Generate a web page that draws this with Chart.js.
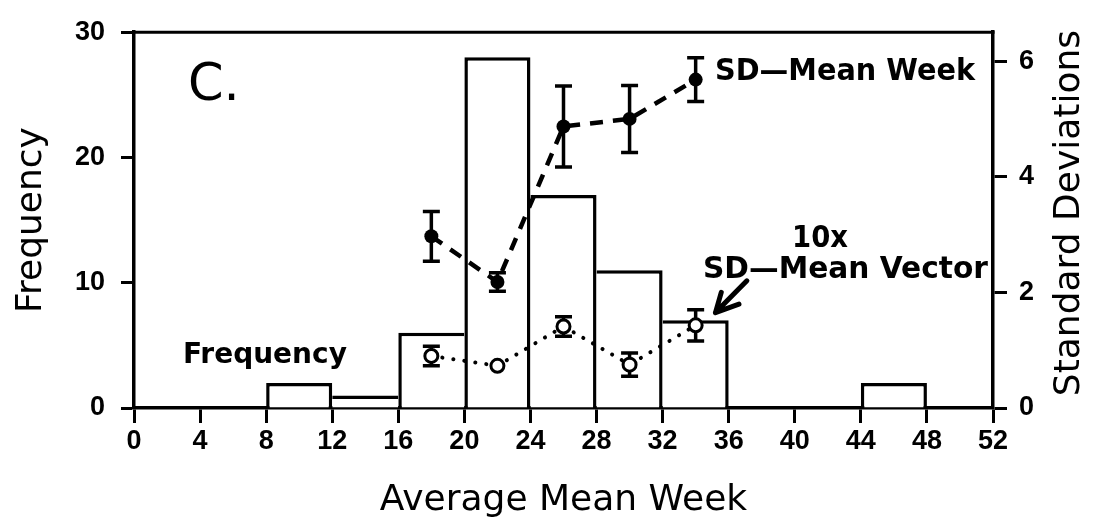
<!DOCTYPE html>
<html>
<head>
<meta charset="utf-8">
<script src="https://cdn.jsdelivr.net/npm/chart.js@4.4.0/dist/chart.umd.min.js"></script>
<style>
html,body{margin:0;padding:0;background:#fff;overflow:hidden}
#wrap{width:1093px;height:528px;position:relative}
</style>
</head>
<body>
<div id="wrap"><canvas id="c" width="1093" height="528"></canvas></div>
<script>
// ---- data ----
const binCenters = [10, 14, 18, 22, 26, 30, 34, 46];   // 4-week bins: 8-12, 12-16, ... 44-48
const frequency  = [2, 1, 6, 28, 17, 11, 7, 2];
const sdWeeks          = [18, 22, 26, 30, 34];
const sdMeanWeek       = [2.97, 2.18, 4.87, 5.00, 5.68];
const sdMeanWeekErr    = [0.43, 0.16, 0.70, 0.58, 0.38];
const sdMeanVector10x  = [0.90, 0.73, 1.41, 0.75, 1.43];
const sdMeanVectorErr  = [0.17, 0, 0.17, 0.20, 0.27];
const xTicks    = [0, 4, 8, 12, 16, 20, 24, 28, 32, 36, 40, 44, 48, 52];
const freqTicks = [0, 10, 20, 30];
const sdTicks   = [0, 2, 4, 6];

const BLACK = '#000';
const BAR_EDGE = 3.5;

function sideWidth(i, dir) {
  // shared edge between adjacent bins is drawn once, by the taller bin
  const neighbour = binCenters.findIndex(c => Math.abs(c - (binCenters[i] + 4 * dir)) < 1e-6);
  if (neighbour < 0) return BAR_EDGE;
  return frequency[neighbour] > frequency[i] ? 0 : BAR_EDGE;
}

const errorBars = {
  id: 'errorBars',
  afterDatasetDraw(chart, args) {
    if (args.meta.type !== 'bar') return;
    const ctx = chart.ctx, xs = chart.scales.x, ys = chart.scales.y2;
    ctx.save();
    ctx.strokeStyle = BLACK; ctx.lineWidth = 3.5; ctx.lineCap = 'butt';
    [[sdMeanWeek, sdMeanWeekErr], [sdMeanVector10x, sdMeanVectorErr]].forEach(([vals, errs]) => {
      vals.forEach((v, i) => {
        if (!errs[i]) return;
        const px = xs.getPixelForValue(sdWeeks[i]);
        const top = ys.getPixelForValue(v + errs[i]);
        const bot = ys.getPixelForValue(v - errs[i]);
        ctx.beginPath();
        ctx.moveTo(px, top); ctx.lineTo(px, bot);
        ctx.moveTo(px - 8.5, top); ctx.lineTo(px + 8.5, top);
        ctx.moveTo(px - 8.5, bot); ctx.lineTo(px + 8.5, bot);
        ctx.stroke();
      });
    });
    ctx.restore();
  }
};

const decorations = {
  id: 'decorations',
  afterDraw(chart) {
    const ctx = chart.ctx, a = chart.chartArea;
    const xs = chart.scales.x, ys = chart.scales.y2;
    ctx.save();
    // top frame line
    ctx.strokeStyle = BLACK; ctx.lineWidth = 3;
    ctx.beginPath(); ctx.moveTo(a.left - 1.5, a.top); ctx.lineTo(a.right + 1.5, a.top); ctx.stroke();

    // annotations
    ctx.fillStyle = BLACK; ctx.textAlign = 'left'; ctx.textBaseline = 'alphabetic';
    ctx.font = '51px "DejaVu Sans"';
    ctx.fillText('C.', 188, 100);
    ctx.font = 'bold 31px "DejaVu Sans"';
    ctx.fillText('SD\u2014Mean Week', 715, 80, 260);
    ctx.fillText('10x', 792, 247, 56);
    ctx.fillText('SD\u2014Mean Vector', 703, 278, 285);
    ctx.font = 'bold 28px "DejaVu Sans"';
    ctx.fillText('Frequency', 183, 363, 176);

    // arrow pointing at the 10x SD-Mean Vector series
    const tipX = xs.getPixelForValue(35.2), tipY = ys.getPixelForValue(1.65);
    const tailX = xs.getPixelForValue(37.1), tailY = ys.getPixelForValue(2.2);
    ctx.lineWidth = 5; ctx.lineCap = 'round';
    ctx.beginPath();
    ctx.moveTo(tailX, tailY); ctx.lineTo(tipX, tipY);
    [[-74, 21], [-20, 25]].forEach(([deg, len]) => {
      const r = deg * Math.PI / 180;
      ctx.moveTo(tipX, tipY);
      ctx.lineTo(tipX + len * Math.cos(r), tipY + len * Math.sin(r));
    });
    ctx.stroke();

    // right axis title (reads bottom to top)
    ctx.translate(1079, (a.top + a.bottom) / 2 - 7);
    ctx.rotate(-Math.PI / 2);
    ctx.textAlign = 'center';
    ctx.font = '36px "DejaVu Sans"';
    ctx.fillText('Standard Deviations', 0, 0);
    ctx.restore();
  }
};

const tickFont = { family: 'Liberation Sans', size: 27, weight: 'bold' };
const titleFont = { family: 'DejaVu Sans', size: 36, weight: 'normal' };

new Chart(document.getElementById('c'), {
  type: 'bar',
  data: {
    datasets: [
      {
        type: 'line',
        label: 'SD-Mean Week',
        data: sdWeeks.map((x, i) => ({ x, y: sdMeanWeek[i] })),
        yAxisID: 'y2',
        borderColor: BLACK,
        borderWidth: 4.5,
        borderDash: [13, 10],
        tension: 0,
        fill: false,
        pointRadius: 7,
        pointBackgroundColor: BLACK,
        pointBorderColor: BLACK,
        pointBorderWidth: 0,
        order: 1
      },
      {
        type: 'line',
        label: '10x SD-Mean Vector',
        data: sdWeeks.map((x, i) => ({ x, y: sdMeanVector10x[i] })),
        yAxisID: 'y2',
        borderColor: BLACK,
        borderWidth: 4,
        borderDash: [0.1, 11],
        borderCapStyle: 'round',
        tension: 0,
        fill: false,
        pointRadius: 6.5,
        pointBackgroundColor: '#fff',
        pointBorderColor: BLACK,
        pointBorderWidth: 3,
        order: 2
      },
      {
        type: 'bar',
        label: 'Frequency',
        data: binCenters.map((x, i) => ({ x, y: frequency[i] })),
        yAxisID: 'y',
        backgroundColor: '#fff',
        borderColor: BLACK,
        borderWidth: ctx => ({ top: BAR_EDGE, left: sideWidth(ctx.dataIndex, -1), right: sideWidth(ctx.dataIndex, 1) }),
        borderSkipped: 'start',
        barPercentage: 1,
        categoryPercentage: 1,
        inflateAmount: 0,
        grouped: false,
        order: 3
      }
    ]
  },
  options: {
    responsive: false,
    devicePixelRatio: 1,
    animation: false,
    layout: { padding: { top: 21, left: 0, right: 0, bottom: 0 } },
    plugins: { legend: { display: false }, tooltip: { enabled: false }, title: { display: false } },
    scales: {
      x: {
        type: 'linear', min: 0, max: 52, offset: false,
        afterBuildTicks: s => { s.ticks = xTicks.map(v => ({ value: v })); },
        grid: { display: true, drawOnChartArea: false, drawTicks: true, tickLength: 15, tickWidth: 3, tickColor: BLACK, offset: false },
        border: { display: true, color: BLACK, width: 3.5 },
        ticks: { color: BLACK, font: tickFont, padding: 2, autoSkip: false, maxRotation: 0, minRotation: 0 },
        title: { display: true, text: 'Average Mean Week', color: BLACK, font: titleFont, padding: { top: 0, bottom: 6 } },
        afterFit: s => { s.height = 120; }
      },
      y: {
        type: 'linear', position: 'left', min: 0, max: 30,
        afterBuildTicks: s => { s.ticks = freqTicks.map(v => ({ value: v })); },
        grid: { display: true, drawOnChartArea: false, drawTicks: true, tickLength: 13, tickWidth: 3, tickColor: BLACK },
        border: { display: true, color: BLACK, width: 3.5 },
        ticks: { color: BLACK, font: tickFont, padding: 16 },
        title: { display: true, text: 'Frequency', color: BLACK, font: titleFont, padding: { top: 10, bottom: 0 } },
        afterFit: s => { s.width = 134; }
      },
      y2: {
        type: 'linear', position: 'right', min: 0, max: 6.5,
        afterBuildTicks: s => { s.ticks = sdTicks.map(v => ({ value: v })); },
        grid: { display: true, drawOnChartArea: false, drawTicks: true, tickLength: 14, tickWidth: 3, tickColor: BLACK },
        border: { display: true, color: BLACK, width: 3.5 },
        ticks: { color: BLACK, font: tickFont, padding: 12 },
        afterFit: s => { s.width = 100; }
      }
    }
  },
  plugins: [errorBars, decorations]
});
</script>
</body>
</html>
